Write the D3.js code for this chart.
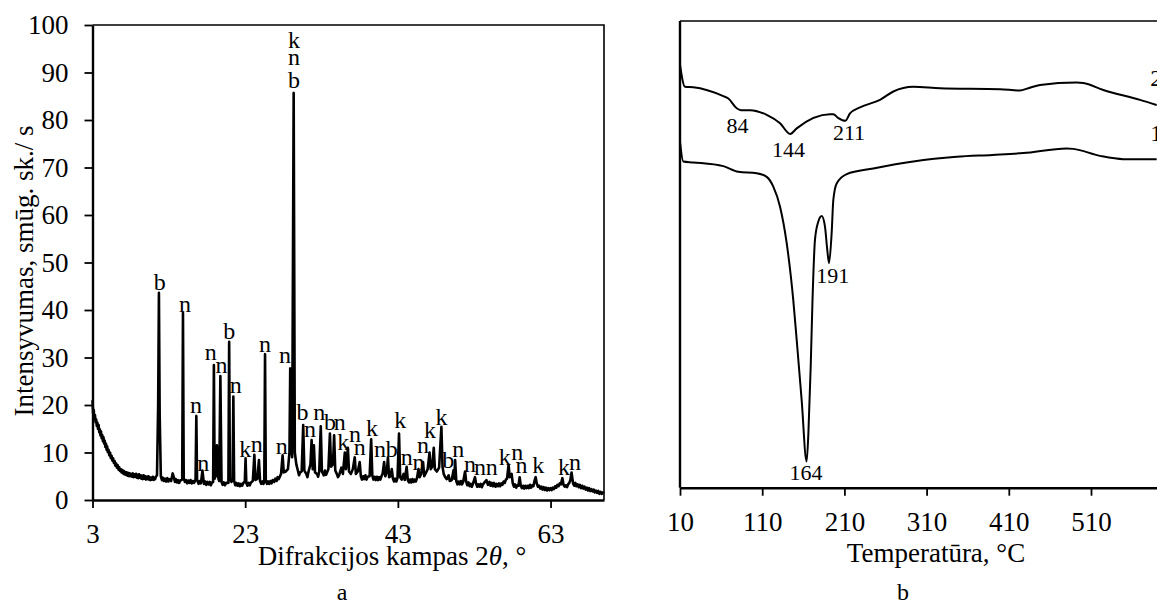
<!DOCTYPE html>
<html>
<head>
<meta charset="utf-8">
<script src="https://cdn.jsdelivr.net/npm/d3@7"></script>
<style>
  body { margin: 0; background: #fff; }
  svg { display: block; font-family: "Liberation Serif", "Times New Roman", serif; }
</style>
</head>
<body>
<div id="chart"></div>
<script>
// ---- panel a: XRD pattern ----
const xrdTicksX = [3, 23, 43, 63];
const xrdTicksY = [0, 10, 20, 30, 40, 50, 60, 70, 80, 90, 100];

// [2theta, intensity]
const xrdPattern = [
  [3.0,21.0],[3.08,18.2],[3.16,19.0],[3.24,17.2],[3.32,17.9],[3.4,16.4],[3.48,17.0],[3.56,15.6],
  [3.64,16.3],[3.72,15.0],[3.8,15.8],[3.88,14.3],[3.96,14.9],[4.04,13.6],[4.12,14.4],[4.2,13.0],
  [4.28,13.7],[4.36,12.4],[4.44,13.2],[4.52,11.9],[4.6,12.5],[4.68,11.2],[4.76,11.9],[4.84,10.6],
  [4.92,11.3],[5.0,10.1],[5.1,10.6],[5.2,9.4],[5.3,10.0],[5.4,8.8],[5.5,9.3],[5.6,8.3],
  [5.7,8.8],[5.8,7.8],[5.9,8.2],[6.0,7.2],[6.1,7.7],[6.2,6.8],[6.3,7.3],[6.4,6.4],
  [6.5,6.9],[6.6,6.1],[6.7,6.5],[6.8,5.8],[6.9,6.3],[7.0,5.6],[7.1,6.1],[7.2,5.4],
  [7.3,5.9],[7.4,5.3],[7.5,5.8],[7.6,5.1],[7.7,5.7],[7.8,5.0],[7.9,5.6],[8.0,5.0],
  [8.1,5.5],[8.2,4.9],[8.3,5.6],[8.4,4.8],[8.5,5.4],[8.6,4.9],[8.7,5.5],[8.8,4.7],
  [8.9,5.3],[9.0,4.6],[9.1,5.4],[9.2,4.7],[9.3,5.2],[9.4,4.5],[9.5,5.1],[9.6,4.4],
  [9.7,5.2],[9.8,4.5],[9.9,5.0],[10.0,4.3],[10.1,4.9],[10.2,4.4],[10.3,5.0],[10.4,4.3],
  [10.5,4.8],[10.6,4.2],[10.7,4.7],[10.8,4.3],[10.9,4.9],[11.0,4.2],[11.1,4.7],[11.2,4.4],
  [11.3,4.9],[11.45,5.2],[11.6,20],[11.7,43.6],[11.8,18],
  [11.95,5.0],[12.1,4.2],[12.2,4.7],[12.35,4.0],[12.5,4.5],[12.65,3.9],[12.8,4.6],[12.95,3.9],
  [13.1,4.4],[13.3,4.0],[13.5,5.6],[13.7,4.5],[13.8,3.8],
  [13.9,4.4],[14.05,3.7],[14.2,4.2],[14.35,3.6],[14.5,4.1],[14.75,4.3],[14.85,39.4],[14.95,4.6],
  [15.1,3.8],[15.25,4.2],[15.4,3.5],[15.55,4.1],
  [15.7,3.6],[15.85,4.2],[16.0,3.5],[16.15,4.0],[16.3,3.6],[16.5,4.3],[16.6,17.7],[16.7,4.2],
  [16.9,3.4],[17.05,4.0],[17.2,3.5],
  [17.4,6.2],[17.6,3.4],[17.75,3.9],[17.9,3.2],[18.05,3.8],[18.2,3.3],[18.35,3.8],[18.5,3.1],
  [18.65,3.7],[18.8,3.8],[18.9,28.4],[19.0,4.5],
  [19.2,6.0],[19.3,11.5],[19.4,5.0],[19.6,4.0],[19.75,26.1],[19.9,3.8],[20.05,3.2],[20.2,3.7],
  [20.35,3.1],[20.5,3.6],
  [20.8,3.6],[20.9,33.3],[21.0,4.5],[21.2,3.8],[21.35,4.2],[21.45,21.8],[21.55,4.0],[21.7,3.1],
  [21.85,3.6],[22.0,3.0],[22.15,3.5],[22.3,2.9],[22.45,3.4],[22.6,3.0],
  [22.75,3.6],[22.95,3.8],[23.05,8.8],[23.15,3.6],[23.3,3.0],[23.45,3.6],[23.6,3.1],[23.75,3.7],
  [24.0,4.0],[24.2,9.5],[24.35,4.2],[24.6,4.5],[24.8,8.4],[24.95,4.0],[25.1,3.4],[25.25,3.9],
  [25.4,3.4],[25.5,4.0],
  [25.6,30.7],[25.7,4.2],[25.85,3.4],[26.0,3.9],[26.15,3.4],[26.3,4.0],[26.45,3.5],[26.6,4.2],
  [26.8,3.8],[26.95,4.5],[27.1,4.0],[27.25,4.8],[27.4,4.4],
  [27.7,5.5],[27.9,9.4],[28.05,5.8],[28.3,6.0],[28.6,6.5],[28.8,10.0],[28.9,27.7],[29.0,12.0],
  [29.15,9.0],[29.35,85.7],[29.5,10.0],[29.7,7.5],[29.9,6.2],[30.05,5.2],[30.2,5.8],[30.4,6.0],[30.6,15.8],
  [30.75,6.2],[31.0,5.5],[31.15,4.8],[31.3,6.0],[31.55,7.5],[31.7,12.6],[31.85,6.5],[32.0,11.5],[32.15,5.8],
  [32.4,5.5],[32.55,4.9],[32.7,6.0],[32.9,15.5],[33.05,6.0],[33.3,5.2],[33.45,6.2],[33.6,5.3],[33.9,6.5],[34.1,14.0],
  [34.25,7.0],[34.5,7.5],[34.65,13.6],[34.8,6.2],[35.0,5.5],[35.15,4.8],[35.3,5.2],[35.6,6.8],[35.8,5.5],
  [36.05,10.0],[36.2,6.5],[36.45,11.0],[36.6,6.0],[36.85,5.5],[37.1,6.5],[37.35,9.0],[37.5,5.5],
  [37.75,6.0],[38.0,8.0],[38.15,5.0],[38.3,4.3],[38.45,5.0],[38.6,4.4],[38.75,5.2],[38.9,4.3],[39.05,4.9],
  [39.3,5.0],[39.5,12.8],
  [39.65,5.2],[39.8,4.3],[39.95,4.9],[40.1,4.2],[40.25,4.9],[40.4,4.2],[40.55,4.8],[40.7,4.3],
  [40.85,5.0],[41.0,5.5],[41.2,8.0],[41.35,5.0],
  [41.55,6.0],[41.7,9.0],[41.85,4.8],[42.05,5.0],[42.2,6.5],[42.35,4.5],[42.5,3.9],[42.65,4.5],
  [42.8,3.9],[42.95,4.6],
  [43.15,14.0],[43.3,4.8],[43.5,4.3],[43.75,5.5],[43.9,4.2],[44.15,7.0],[44.3,4.2],[44.45,3.7],
  [44.6,4.3],[44.75,3.7],[44.9,4.4],[45.05,3.8],[45.2,4.3],[45.35,3.9],[45.5,4.6],[45.7,6.5],
  [45.85,4.8],[46.05,5.5],[46.3,8.0],[46.45,5.0],
  [46.7,5.8],[46.9,6.5],[47.15,10.0],[47.3,6.5],[47.5,7.0],[47.7,11.0],[47.85,6.5],[48.1,6.0],
  [48.4,6.8],[48.7,15.4],[48.85,7.0],[49.0,5.5],[49.2,4.8],[49.4,4.4],[49.65,5.2],[49.8,4.0],
  [50.05,4.2],[50.3,6.3],[50.4,4.5],[50.5,8.4],[50.65,4.0],[50.8,3.3],[50.95,3.9],[51.1,3.3],
  [51.25,4.0],[51.4,3.3],[51.55,3.8],
  [51.8,6.0],[51.95,3.8],[52.1,3.1],[52.25,3.7],[52.4,2.9],[52.55,3.4],[52.7,2.8],[52.85,3.5],
  [53.1,4.8],[53.25,3.4],[53.4,2.8],[53.55,3.3],
  [53.7,2.8],[53.85,3.4],[54.0,2.7],[54.15,3.3],[54.3,3.6],[54.6,4.2],[54.8,3.2],[55.0,3.8],
  [55.15,3.0],[55.3,3.6],[55.45,2.9],[55.6,3.6],
  [55.8,2.8],[55.95,3.4],[56.1,2.9],[56.25,3.5],[56.4,2.9],[56.55,3.5],[56.7,3.2],[56.85,3.9],
  [57.0,3.6],[57.15,4.3],[57.3,4.5],[57.5,7.4],[57.65,4.8],
  [57.9,5.5],[58.05,3.5],[58.2,2.8],[58.35,3.3],[58.5,2.6],[58.65,3.1],[58.8,3.0],[58.95,4.8],
  [59.1,3.0],[59.25,2.5],[59.4,3.0],[59.55,2.4],[59.7,3.0],[59.85,2.5],
  [60.0,3.0],[60.15,2.5],[60.3,3.2],[60.45,2.6],[60.6,3.1],[60.75,2.9],[60.9,4.0],[61.05,4.8],
  [61.2,3.4],[61.35,2.8],[61.5,3.0],[61.65,2.4],[61.8,2.8],[61.95,2.2],
  [62.1,2.7],[62.25,2.1],[62.4,2.6],[62.55,2.0],[62.7,2.5],[62.85,2.1],[63.0,2.5],[63.15,2.1],
  [63.3,2.6],[63.45,2.3],[63.6,2.9],[63.75,2.6],[63.9,3.2],[64.05,2.9],[64.2,3.5],[64.35,3.3],
  [64.55,4.6],[64.7,3.2],[64.85,2.8],[65.0,3.1],[65.15,2.7],[65.3,3.3],[65.45,3.6],[65.6,4.2],
  [65.75,5.8],[65.95,3.5],[66.1,3.0],[66.25,3.6],[66.4,2.9],[66.55,3.3],[66.7,2.7],[66.85,3.2],
  [67.0,2.5],[67.15,3.0],[67.3,2.4],[67.45,2.8],[67.6,2.2],[67.75,2.6],[67.9,2.0],[68.05,2.5],
  [68.2,1.9],[68.35,2.3],[68.5,1.8],[68.65,2.2],[68.8,1.6],[68.95,2.0],[69.1,1.5],[69.25,1.9],
  [69.4,1.3],[69.55,1.7],[69.7,1.3],[69.85,1.6],[70.0,1.4]
];

// phase labels: [text, 2theta, intensity of baseline]
const xrdLabels = [
  ["b",11.8,44.2],["n",15.1,39.6],["n",16.55,18.3],["n",17.5,6.2],["n",18.5,29.5],
  ["n",19.9,26.7],["b",20.9,33.8],["n",21.75,22.5],["k",23.0,9.1],["n",24.5,10.2],
  ["n",25.6,31.2],["n",27.8,9.7],["n",28.2,28.9],
  ["k",29.4,95.2],["n",29.4,91.6],["b",29.4,86.7],
  ["b",30.5,16.8],["n",31.5,13.3],["n",32.7,16.8],["b",34.1,14.7],["n",35.4,14.7],
  ["k",35.85,10.5],["n",37.4,12.3],["n",38.0,9.5],["k",39.6,13.5],["n",40.65,9.1],
  ["b",42.2,9.1],["k",43.3,15.1],["n",44.15,7.4],["n",45.7,6.3],["n",46.3,9.8],
  ["k",47.2,13.0],["k",48.7,15.8],["b",49.6,6.7],["n",50.9,9.1],["n",52.45,6.0],
  ["n",53.75,5.3],["n",55.3,5.3],["k",57.0,7.4],["n",58.65,8.4],["n",59.2,5.6],
  ["k",61.4,5.6],["k",64.75,5.3],["n",66.2,6.3]
];

// ---- panel b: thermal analysis ----
const dtaTicksX = [10, 110, 210, 310, 410, 510];

// [temperature, signal (a.u.)]
const dtaCurve1 = [
  [10,74.1],[14,69.9],[26.2,69.7],[62.7,68.9],[80.9,67.7],[103.3,67.4],[115.5,66.6],
  [123.5,64.5],[131.7,60.2],[139.8,52.4],[147.8,40.2],[152,31.6],[158,18.8],[164,5.6],
  [166.2,11.7],[169,25.9],[171.2,40.2],[174.2,53.1],[178.2,57.0],[182.4,58.2],[186.4,55.9],
  [189.2,50.9],[191.3,48.1],[194.5,54.6],[196.5,61.6],[200.6,65.2],[212.8,67.2],[245.2,68.4],
  [293.8,69.9],[346.6,70.9],[390,71.3],[427.6,71.7],[480.4,72.7],[488.5,72.6],[520.9,71.1],
  [549.3,70.4],[589.9,70.4]
];
const dtaCurve2 = [
  [10,90.6],[16.1,85.9],[26.2,85.8],[62.7,83.9],[68.8,83.4],[79,81.3],[84,80.9],[95.2,80.9],
  [115.5,79.9],[131.7,78.1],[144,75.8],[152,77.0],[192.5,80.0],[196.5,80.0],[202.6,79.2],
  [211,78.6],[216.8,80.2],[229,81.5],[253.3,83.1],[269.5,84.9],[293.8,85.9],[326.3,85.6],
  [399.3,85.4],[423.6,85.1],[433.7,85.6],[448,86.3],[492.6,86.8],[500.6,86.7],[525,85.2],
  [569.6,83.1],[589.9,82.0]
];

// peak temperatures: [text, temperature, signal of baseline]
const dtaPeakLabels = [
  ["84",80,75.9],["144",142,70.9],["211",215.6,74.4],["191",195.8,43.8],["164",163.3,1.65]
];
const dtaCurveNames = [["2",582,86.0],["1",582,74.2]];

const W = 1157, H = 604;
const svg = d3.select("#chart").append("svg")
  .attr("width", W)
  .attr("height", H);

// ================= panel a =================
const a = { left: 92.5, right: 604, top: 25, bottom: 500 };

const xA = d3.scaleLinear().domain([3, 70]).range([a.left, a.right]);
const yA = d3.scaleLinear().domain([0, 100]).range([a.bottom, a.top]);

const gA = svg.append("g");

// frame (top + right)
gA.append("path")
  .attr("d", `M${a.left},${a.top}H${a.right}V${a.bottom}`)
  .attr("fill", "none")
  .attr("stroke", "#000")
  .attr("stroke-width", 1.6);

gA.append("path")
  .datum(xrdPattern)
  .attr("fill", "none")
  .attr("stroke", "#000")
  .attr("stroke-width", 2.6)
  .attr("stroke-linejoin", "round")
  .attr("d", d3.line().x(d => xA(d[0])).y(d => yA(d[1])));

const axAx = gA.append("g")
  .attr("transform", `translate(0,${a.bottom})`)
  .call(d3.axisBottom(xA).tickValues(xrdTicksX).tickSize(8).tickSizeOuter(0).tickPadding(16));
const axAy = gA.append("g")
  .attr("transform", `translate(${a.left},0)`)
  .call(d3.axisLeft(yA).tickValues(xrdTicksY).tickSize(8).tickSizeOuter(0).tickPadding(16));

[axAx, axAy].forEach(ax => {
  ax.select(".domain").attr("stroke-width", 2.4);
  ax.selectAll(".tick line").attr("stroke-width", 1.8);
  ax.selectAll(".tick text")
    .attr("font-family", "Liberation Serif")
    .attr("font-size", "27px")
    .attr("fill", "#000");
});

gA.selectAll("text.phase")
  .data(xrdLabels)
  .enter()
  .append("text")
  .attr("class", "phase")
  .attr("x", d => xA(d[1]))
  .attr("y", d => yA(d[2]))
  .attr("text-anchor", "middle")
  .attr("font-size", "24px")
  .text(d => d[0]);

gA.append("text")
  .attr("transform", `translate(33,271) rotate(-90)`)
  .attr("text-anchor", "middle")
  .attr("font-size", "27px")
  .text("Intensyvumas, smūg. sk./ s");

const titleA = gA.append("text")
  .attr("x", 392)
  .attr("y", 565)
  .attr("text-anchor", "middle")
  .attr("font-size", "27px");
titleA.append("tspan").text("Difrakcijos kampas 2");
titleA.append("tspan").attr("font-style", "italic").text("θ");
titleA.append("tspan").text(", °");

gA.append("text")
  .attr("x", 342)
  .attr("y", 600)
  .attr("text-anchor", "middle")
  .attr("font-size", "24px")
  .text("a");

// ================= panel b =================
const b = { left: 680, top: 21, bottom: 487.7 };
const xB = d3.scaleLinear().domain([10, 610]).range([b.left, b.left + 600 * 0.822]);
const yB = d3.scaleLinear().domain([0, 100]).range([b.bottom, b.top]);

const gB = svg.append("g");

gB.append("path")
  .attr("d", `M${b.left},${b.top}H${W + 20}`)
  .attr("stroke", "#000")
  .attr("stroke-width", 1.6);

gB.append("line")
  .attr("x1", b.left).attr("x2", b.left)
  .attr("y1", b.top).attr("y2", b.bottom)
  .attr("stroke", "#000")
  .attr("stroke-width", 2.4);

const dtaLine = d3.line()
  .x(d => xB(d[0]))
  .y(d => yB(d[1]))
  .curve(d3.curveMonotoneX);

[dtaCurve1, dtaCurve2].forEach(c => {
  gB.append("path")
    .datum(c)
    .attr("fill", "none")
    .attr("stroke", "#000")
    .attr("stroke-width", 2)
    .attr("d", dtaLine);
});

const axBx = gB.append("g")
  .attr("transform", `translate(0,${b.bottom})`)
  .call(d3.axisBottom(xB).tickValues(dtaTicksX).tickSize(8).tickSizeOuter(0).tickPadding(16));
axBx.select(".domain").attr("stroke-width", 2.4);
axBx.selectAll(".tick line").attr("stroke-width", 1.8);
axBx.selectAll(".tick text")
  .attr("font-family", "Liberation Serif")
  .attr("font-size", "27px")
  .attr("fill", "#000");

gB.selectAll("text.peak")
  .data(dtaPeakLabels)
  .enter()
  .append("text")
  .attr("class", "peak")
  .attr("x", d => xB(d[1]))
  .attr("y", d => yB(d[2]))
  .attr("text-anchor", "middle")
  .attr("font-size", "22px")
  .text(d => d[0]);

gB.selectAll("text.curve")
  .data(dtaCurveNames)
  .enter()
  .append("text")
  .attr("class", "curve")
  .attr("x", d => xB(d[1]))
  .attr("y", d => yB(d[2]))
  .attr("font-size", "24px")
  .text(d => d[0]);

gB.append("text")
  .attr("x", 936)
  .attr("y", 562)
  .attr("text-anchor", "middle")
  .attr("font-size", "27px")
  .text("Temperatūra, °C");

gB.append("text")
  .attr("x", 903)
  .attr("y", 600)
  .attr("text-anchor", "middle")
  .attr("font-size", "24px")
  .text("b");
</script>
</body>
</html>
